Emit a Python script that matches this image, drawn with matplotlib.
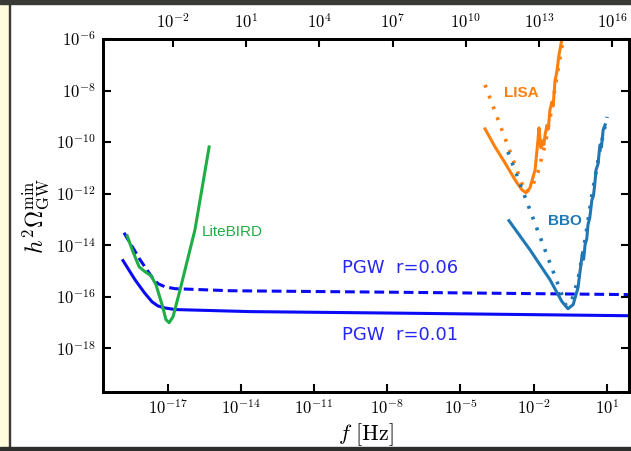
import numpy as np
import matplotlib.pyplot as plt
from matplotlib.patches import Rectangle

plt.rcParams['mathtext.fontset'] = 'cm'

# curves, stored as log10(f / Hz) and log10(h^2 Omega)
pgw001_lf = [-18.83, -18.34, -17.95, -17.64, -17.40, -17.10, -16.70, -13.62, -7.47, 1.91]
pgw001_lo = [-14.60, -15.34, -15.85, -16.20, -16.36, -16.44, -16.50, -16.58, -16.64, -16.74]

pgw006_lf = [-18.79, -18.13, -17.60, -17.39, -17.10, -16.70, -14.44, -7.47, 1.91]
pgw006_lo = [-13.52, -14.57, -15.30, -15.50, -15.62, -15.69, -15.77, -15.83, -15.92]

lite_lf = [-18.66, -18.42, -18.17, -17.93, -17.68, -17.48, -17.23, -17.07, -16.94,
           -16.78, -16.49, -15.88, -15.30]
lite_lo = [-13.64, -14.26, -14.84, -15.03, -15.19, -15.53, -16.31, -16.89, -17.01,
           -16.78, -15.73, -13.40, -10.19]

lisa_lf = [-3.99, -3.58, -3.17, -2.76, -2.48, -2.31, -2.15, -1.94, -1.82, -1.78,
           -1.70, -1.62, -1.58, -1.53, -1.45, -1.40, -1.33, -1.25, -1.20, -1.12,
           -1.05, -0.96, -0.84]
lisa_lo = [-9.49, -10.19, -10.81, -11.47, -11.85, -11.97, -11.78, -11.08, -9.91, -9.45,
           -10.22, -9.95, -10.10, -9.72, -9.35, -9.50, -8.75, -8.45, -8.60, -7.59,
           -7.30, -6.62, -6.00]

lisa_dot_lf = [-3.99, -2.35, -2.11, -1.82, -1.53, -1.25, -1.00, -0.79]
lisa_dot_lo = [-7.78, -11.93, -11.85, -11.16, -10.11, -8.67, -7.20, -6.04]

bbo_lf = [-3.01, -2.15, -1.33, -0.84, -0.59, -0.38, -0.18, -0.01, 0.05, 0.11,
          0.18, 0.23, 0.30, 0.39, 0.45, 0.50, 0.56, 0.64, 0.72, 0.78, 0.85, 0.93]
bbo_lo = [-13.05, -14.18, -15.34, -16.19, -16.47, -16.31, -15.65, -14.37, -14.55, -13.98,
          -13.75, -13.20, -12.95, -12.24, -12.10, -11.70, -11.08, -10.85, -10.11, -10.20,
          -9.53, -9.33]

bbo_dot_lf = [-3.05, -0.67, -0.43, -0.18, 0.11, 0.39, 0.72, 1.01]
bbo_dot_lo = [-10.38, -16.35, -16.12, -15.34, -13.79, -12.05, -10.30, -9.02]

xtick_exp = [-17, -14, -11, -8, -5, -2, 1]
top_exp = [-2, 1, 4, 7, 10, 13, 16]
ytick_exp = [-18, -16, -14, -12, -10, -8, -6]

xlog_lim = (-19.65, 1.91)
top_shift = 14.78

fig = plt.figure(figsize=(6.31, 4.51), dpi=100)

# screenshot frame
fig.patches.append(Rectangle((0, 0), 1, 1, transform=fig.transFigure, color='white', zorder=-10))
fig.patches.append(Rectangle((0, 0), 9/631, 1, transform=fig.transFigure, color='#fffbdc', zorder=-9))
fig.patches.append(Rectangle((9/631, 0), 1.5/631, 1, transform=fig.transFigure, color='#3a3a36', zorder=-9))
fig.patches.append(Rectangle((0, 1 - 4/451), 1, 4/451, transform=fig.transFigure, color='#3a3a36', zorder=-8))
fig.patches.append(Rectangle((0, 0), 1, 4/451, transform=fig.transFigure, color='#2e2e2c', zorder=-8))

ax = fig.add_axes([103/631, 59/451, 526/631, 353/451])
ax.patch.set_alpha(0)

def P(lf, lo):
    return 10**np.array(lf), 10**np.array(lo)

blue = '#0a0af5'
ax.plot(*P(pgw001_lf, pgw001_lo), color=blue, lw=2.2)
ax.plot(*P(pgw006_lf, pgw006_lo), color=blue, lw=2.2, ls=(0, (3.2, 1.6)))
ax.plot(*P(lite_lf, lite_lo), color='#1fae45', lw=2.2)
ax.plot(*P(lisa_lf, lisa_lo), color='#ff7f0e', lw=2.2)
ax.plot(*P(lisa_dot_lf, lisa_dot_lo), color='#ff7f0e', lw=2.6, ls=(0, (0.8, 2.4)))
ax.plot(*P(bbo_lf, bbo_lo), color='#1f77b4', lw=2.2)
ax.plot(*P(bbo_dot_lf, bbo_dot_lo), color='#1f77b4', lw=2.6, ls=(0, (0.8, 2.4)))

ax.set_xscale('log')
ax.set_yscale('log')
ax.set_xlim(10**xlog_lim[0], 10**xlog_lim[1])
ax.set_ylim(10**-19.7, 1e-6)

ax.set_xticks([10.0**e for e in xtick_exp])
ax.set_xticklabels([r'$10^{%d}$' % e for e in xtick_exp])
ax.set_yticks([10.0**e for e in ytick_exp])
ax.set_yticklabels([r'$10^{%d}$' % e for e in ytick_exp])
ax.minorticks_off()
ax.tick_params(direction='in', length=6, width=1.5, labelsize=12, right=True, pad=5)

for s in ax.spines.values():
    s.set_linewidth(2)

ax2 = ax.twiny()
ax2.set_xscale('log')
ax2.set_xlim(10**(xlog_lim[0] + top_shift), 10**(xlog_lim[1] + top_shift))
ax2.set_xticks([10.0**e for e in top_exp])
ax2.set_xticklabels([r'$10^{%d}$' % e for e in top_exp])
ax2.minorticks_off()
ax2.tick_params(direction='in', length=6, width=1.5, labelsize=12, pad=5)
for s in ax2.spines.values():
    s.set_linewidth(2)

ax.set_xlabel(r'$f\ [\mathrm{Hz}]$', fontsize=16, labelpad=2)
ax.set_ylabel(r'$h^2\Omega_{\rm GW}^{\rm min}$', fontsize=17, labelpad=4)

ax.text(10**-15.6, 10**-13.5, 'LiteBIRD', color='#1fae45', fontsize=11,
        family='Liberation Sans', va='center')
ax.text(10**-3.2, 10**-8.1, 'LISA', color='#ff7f0e', fontsize=11,
        family='Liberation Sans', fontweight='bold', va='center')
ax.text(10**-1.42, 10**-13.05, 'BBO', color='#1f77b4', fontsize=11,
        family='Liberation Sans', fontweight='bold', va='center')
ax.text(10**-9.85, 10**-14.9, 'PGW  r=0.06', color='#2626f0', fontsize=13,
        va='center')
ax.text(10**-9.85, 10**-17.5, 'PGW  r=0.01', color='#2626f0', fontsize=13,
        va='center')

fig.savefig('out.png', dpi=100)
